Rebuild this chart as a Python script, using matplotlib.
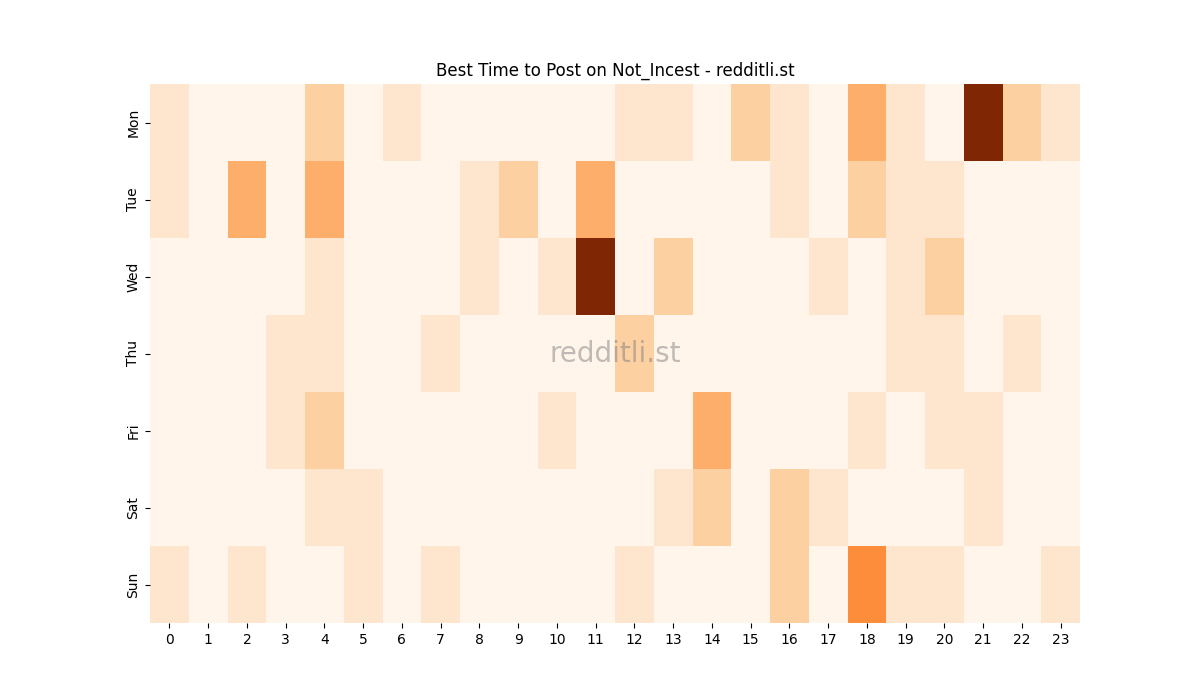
import numpy as np
import matplotlib
matplotlib.use("Agg")
import matplotlib.pyplot as plt
import seaborn as sns

days = ["Mon", "Tue", "Wed", "Thu", "Fri", "Sat", "Sun"]
hours = list(range(24))

mon = [1,0,0,0,2,0,1,0,0,0,0,0,1,1,0,2,1,0,3,1,0,8,2,1]
tue = [1,0,3,0,3,0,0,0,1,2,0,3,0,0,0,0,1,0,2,1,1,0,0,0]
wed = [0,0,0,0,1,0,0,0,1,0,1,8,0,2,0,0,0,1,0,1,2,0,0,0]
thu = [0,0,0,1,1,0,0,1,0,0,0,0,2,0,0,0,0,0,0,1,1,0,1,0]
fri = [0,0,0,1,2,0,0,0,0,0,1,0,0,0,3,0,0,0,1,0,1,1,0,0]
sat = [0,0,0,0,1,1,0,0,0,0,0,0,0,1,2,0,2,1,0,0,0,1,0,0]
sun = [1,0,1,0,0,1,0,1,0,0,0,0,1,0,0,0,2,0,4,1,1,0,0,1]

counts = np.array([mon, tue, wed, thu, fri, sat, sun])

fig = plt.figure(figsize=(12, 7), dpi=100)
ax = fig.add_subplot(111)
sns.heatmap(counts, cmap="Oranges", cbar=False, ax=ax,
            xticklabels=hours, yticklabels=days)
ax.set_title("Best Time to Post on Not_Incest - redditli.st")
ax.text(0.5, 0.5, "redditli.st", transform=ax.transAxes, ha="center",
        va="center", fontsize=20, color="grey", alpha=0.5)
plt.savefig("out.png")
